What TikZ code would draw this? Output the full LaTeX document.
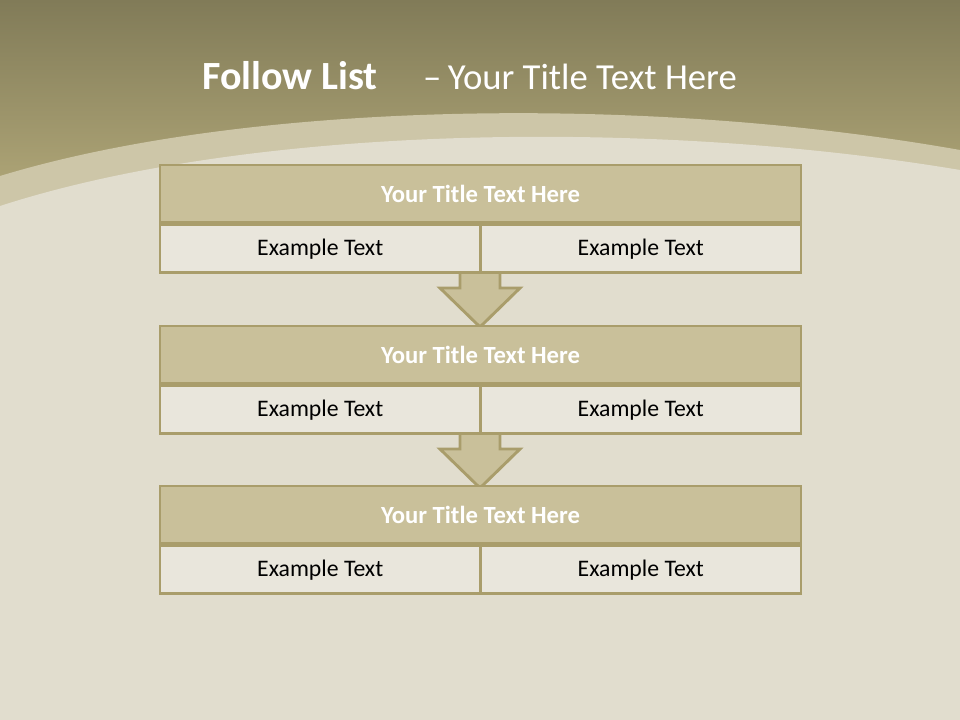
\documentclass[tikz,border=0pt]{standalone}
\usepackage{fontspec}
\setmainfont{Carlito}
\definecolor{topdark}{HTML}{817B58}
\definecolor{toplight}{HTML}{B8AE7D}
\definecolor{parch}{HTML}{E1DDCE}
\definecolor{parchband}{HTML}{CDC6A8}
\definecolor{boxborder}{HTML}{A99D6B}
\definecolor{titlefill}{HTML}{C9C09A}
\definecolor{cellfill}{HTML}{E9E6DC}
\begin{document}
\begin{tikzpicture}[x=0.75pt,y=-0.75pt,
  titlecell/.style={draw=boxborder,line width=2.2pt,fill=titlefill,minimum width=641*0.75pt,minimum height=57*0.75pt,inner sep=0pt,text=white,font=\fontsize{18.5}{20}\selectfont\bfseries},
  cell/.style={draw=boxborder,line width=2.2pt,fill=cellfill,minimum width=320.5*0.75pt,minimum height=48*0.75pt,inner sep=0pt,text=black,font=\fontsize{17.8}{20}\selectfont},
  downarrow/.style={draw=boxborder,line width=2.2pt,fill=titlefill,line join=miter}]
\useasboundingbox (0,0) rectangle (960,720);
% background
\shade[top color=topdark,bottom color=toplight] (0,0) rectangle (960,230);
\fill[parchband] (0,176) .. controls (250,100) and (650,95) .. (960,150) -- (960,720) -- (0,720) -- cycle;
\fill[parch] (0,206) .. controls (250,125) and (650,118) .. (960,170) -- (960,720) -- (0,720) -- cycle;
% title
\node[text=white,font=\fontsize{30}{36}\selectfont,anchor=west,inner sep=0pt] (title) at (202,76) {\textbf{Follow List}\hspace{34pt}{\fontsize{27.5}{33}\selectfont –\hspace{5pt}Your Title Text Here}};
% arrows (drawn first so boxes overlap)
\draw[downarrow] (460,270) -- (460,288) -- (440,288) -- (480,327) -- (520,288) -- (500,288) -- (500,270);
\draw[downarrow] (460,431) -- (460,449) -- (440,449) -- (480,488) -- (520,449) -- (500,449) -- (500,431);
% box 1
\node[titlecell] (t1) at (480.5,193.5) {Your Title Text Here};
\node[cell,anchor=north west] (c1a) at (t1.south west) {Example Text};
\node[cell,anchor=north east] (c1b) at (t1.south east) {Example Text};
% box 2
\node[titlecell] (t2) at (480.5,354.5) {Your Title Text Here};
\node[cell,anchor=north west] (c2a) at (t2.south west) {Example Text};
\node[cell,anchor=north east] (c2b) at (t2.south east) {Example Text};
% box 3
\node[titlecell] (t3) at (480.5,514.5) {Your Title Text Here};
\node[cell,anchor=north west] (c3a) at (t3.south west) {Example Text};
\node[cell,anchor=north east] (c3b) at (t3.south east) {Example Text};
\end{tikzpicture}
\end{document}
